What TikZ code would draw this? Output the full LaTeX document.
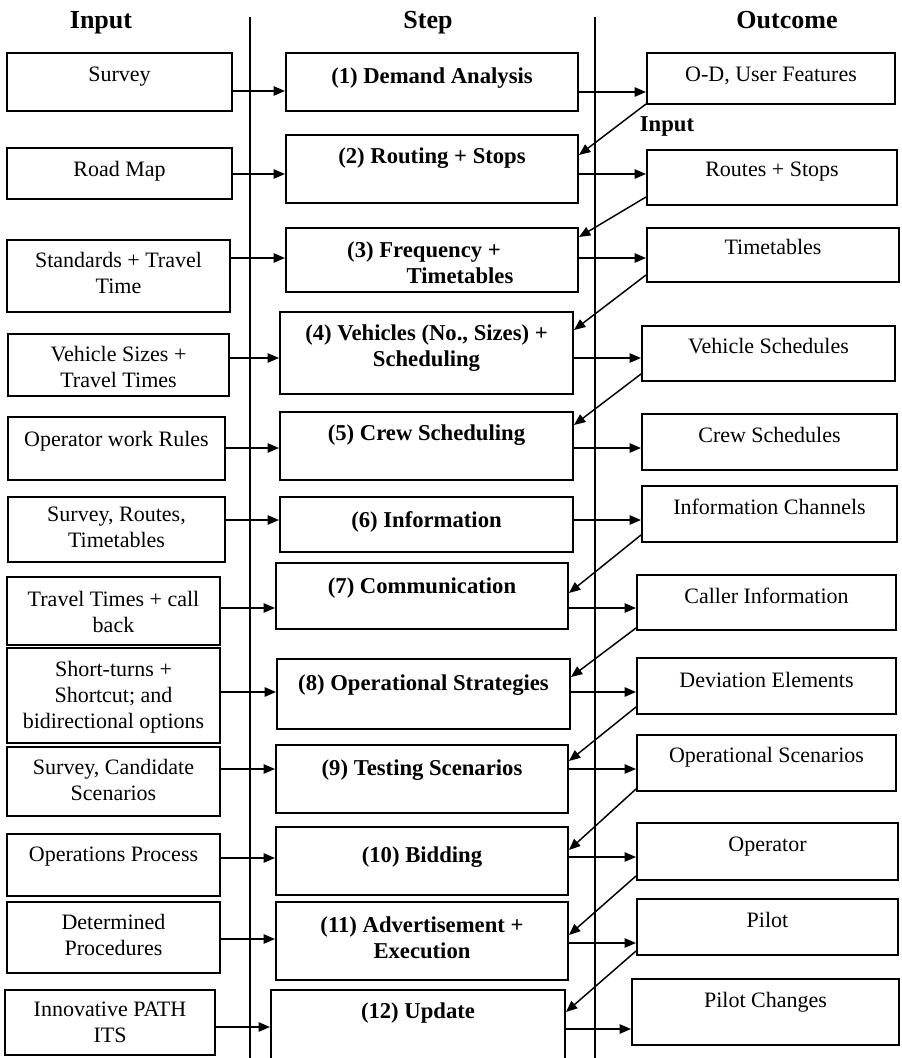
\documentclass[tikz,border=0pt]{standalone}
\usepackage{fontspec}
\setmainfont{Liberation Serif}
\usetikzlibrary{arrows.meta,fit}
\tikzset{
  box/.style={draw, line width=1.5pt, inner sep=0pt},
  txt/.style={inner sep=0pt, align=center, font=\fontsize{16.5pt}{19.5pt}\selectfont},
  bld/.style={txt, font=\fontsize{17pt}{19.5pt}\selectfont\bfseries},
  hdr/.style={inner sep=0pt, font=\fontsize{19.5pt}{22pt}\selectfont\bfseries},
  arr/.style={line width=1.1pt, -{Triangle[length=8.5pt,width=7pt]}},
  divider/.style={line width=1.1pt}
}
\newcommand\drawbox[8]{%
  \node[box, fit={(#2,#3) (#4,#5)}] (#1) {};
  \node[#8, anchor=north] (#1t) at ([yshift=-#6*0.75pt]#1.north) {#7};}
\begin{document}
\begin{tikzpicture}[x=0.75pt, y=-0.75pt]
\clip (0,0) rectangle (901,1058);
% headers
\node[hdr, anchor=base] (hin) at (101,28) {Input};
\node[hdr, anchor=base] (hst) at (428,28) {Step};
\node[hdr, anchor=base] (hout) at (787,28) {Outcome};
% dividers
\coordinate (d1t) at (250,17); \coordinate (d1b) at (250,1060);
\coordinate (d2t) at (595,17); \coordinate (d2b) at (595,1060);
\draw[divider] (d1t) -- (d1b);
\draw[divider] (d2t) -- (d2b);
% input boxes
\drawbox{i1}{7}{53}{232}{111}{15}{Survey}{txt}
\drawbox{i2}{7}{148}{232}{199}{14}{Road Map}{txt}
\drawbox{i3}{7}{240}{230}{312}{13}{Standards + Travel\\Time}{txt}
\drawbox{i4}{8}{334}{229}{396}{13}{Vehicle Sizes +\\Travel Times}{txt}
\drawbox{i5}{8}{417}{225}{480}{15}{Operator work Rules}{txt}
\drawbox{i6}{8}{497}{225}{562}{11}{Survey, Routes,\\Timetables}{txt}
\drawbox{i7}{7}{577}{220}{645}{15}{Travel Times + call\\back}{txt}
\drawbox{i8}{7}{648}{220}{743}{14}{Short-turns +\\Shortcut; and\\bidirectional options}{txt}
\drawbox{i9}{7}{747}{220}{816}{13}{Survey, Candidate\\Scenarios}{txt}
\drawbox{i10}{7}{834}{220}{896}{14}{Operations Process}{txt}
\drawbox{i11}{7}{902}{220}{973}{13}{Determined\\Procedures}{txt}
\drawbox{i12}{5}{990}{215}{1055}{13}{Innovative PATH\\ITS}{txt}
% step boxes
\drawbox{s1}{286}{53}{578}{111}{15}{(1) Demand Analysis}{bld}
\drawbox{s2}{286}{135}{578}{203}{13}{(2) Routing + Stops}{bld}
\drawbox{s3}{286}{228}{578}{292}{14}{(3) Frequency +\hspace*{12pt}\\\hspace*{42pt}Timetables}{bld}
\drawbox{s4}{280}{312}{573}{394}{13}{(4) Vehicles (No., Sizes) +\\Scheduling}{bld}
\drawbox{s5}{280}{412}{573}{480}{13}{(5) Crew Scheduling}{bld}
\drawbox{s6}{280}{497}{573}{552}{15}{(6) Information}{bld}
\drawbox{s7}{276}{563}{568}{629}{15}{(7) Communication}{bld}
\drawbox{s8}{277}{659}{570}{729}{16}{(8) Operational Strategies}{bld}
\drawbox{s9}{276}{745}{568}{813}{15}{(9) Testing Scenarios}{bld}
\drawbox{s10}{276}{827}{568}{895}{20}{(10) Bidding}{bld}
\drawbox{s11}{276}{902}{568}{980}{15}{(11) Advertisement +\\Execution}{bld}
\drawbox{s12}{271}{990}{565}{1064}{13}{(12) Update}{bld}
% outcome boxes
\drawbox{o1}{647}{53}{895}{104}{15}{O-D, User Features}{txt}
\drawbox{o2}{647}{150}{897}{205}{13}{Routes + Stops}{txt}
\drawbox{o3}{647}{228}{899}{282}{12}{Timetables}{txt}
\drawbox{o4}{642}{326}{895}{381}{13}{Vehicle Schedules}{txt}
\drawbox{o5}{642}{414}{897}{470}{14}{Crew Schedules}{txt}
\drawbox{o6}{642}{486}{897}{542}{14}{Information Channels}{txt}
\drawbox{o7}{637}{575}{896}{630}{14}{Caller Information}{txt}
\drawbox{o8}{637}{658}{896}{714}{15}{Deviation Elements}{txt}
\drawbox{o9}{637}{735}{896}{791}{13}{Operational Scenarios}{txt}
\drawbox{o10}{637}{823}{898}{880}{15}{Operator}{txt}
\drawbox{o11}{637}{899}{898}{955}{14}{Pilot}{txt}
\drawbox{o12}{632}{979}{899}{1045}{14}{Pilot Changes}{txt}
% "Input" label
\node[bld, anchor=base] (inlab) at (667,131) {Input};
% input -> step arrows
\foreach \k/\yy in {1/91,2/174,3/258,4/358,5/448,6/520,7/608,8/692,9/769,10/858,11/939,12/1027}
  \draw[arr] (i\k.east |- 0,\yy) -- (s\k.west |- 0,\yy);
% step -> outcome arrows
\foreach \k/\yy in {1/92,2/174,3/258,4/358,5/448,6/520,7/608,8/692,9/769,10/857,11/943,12/1029}
  \draw[arr] (s\k.east |- 0,\yy) -- (o\k.west |- 0,\yy);
% outcome -> next step (feedback) arrows
\foreach \a/\b/\ya/\yb in {1/2/104/155,2/3/197/237,3/4/275/330,4/5/374/425,6/7/535/593,7/8/628/677,8/9/707/761,9/10/789/850,10/11/876/935,11/12/951/1012}
  \draw[arr] (o\a.west |- 0,\ya) -- (s\b.east |- 0,\yb);
\end{tikzpicture}
\end{document}
